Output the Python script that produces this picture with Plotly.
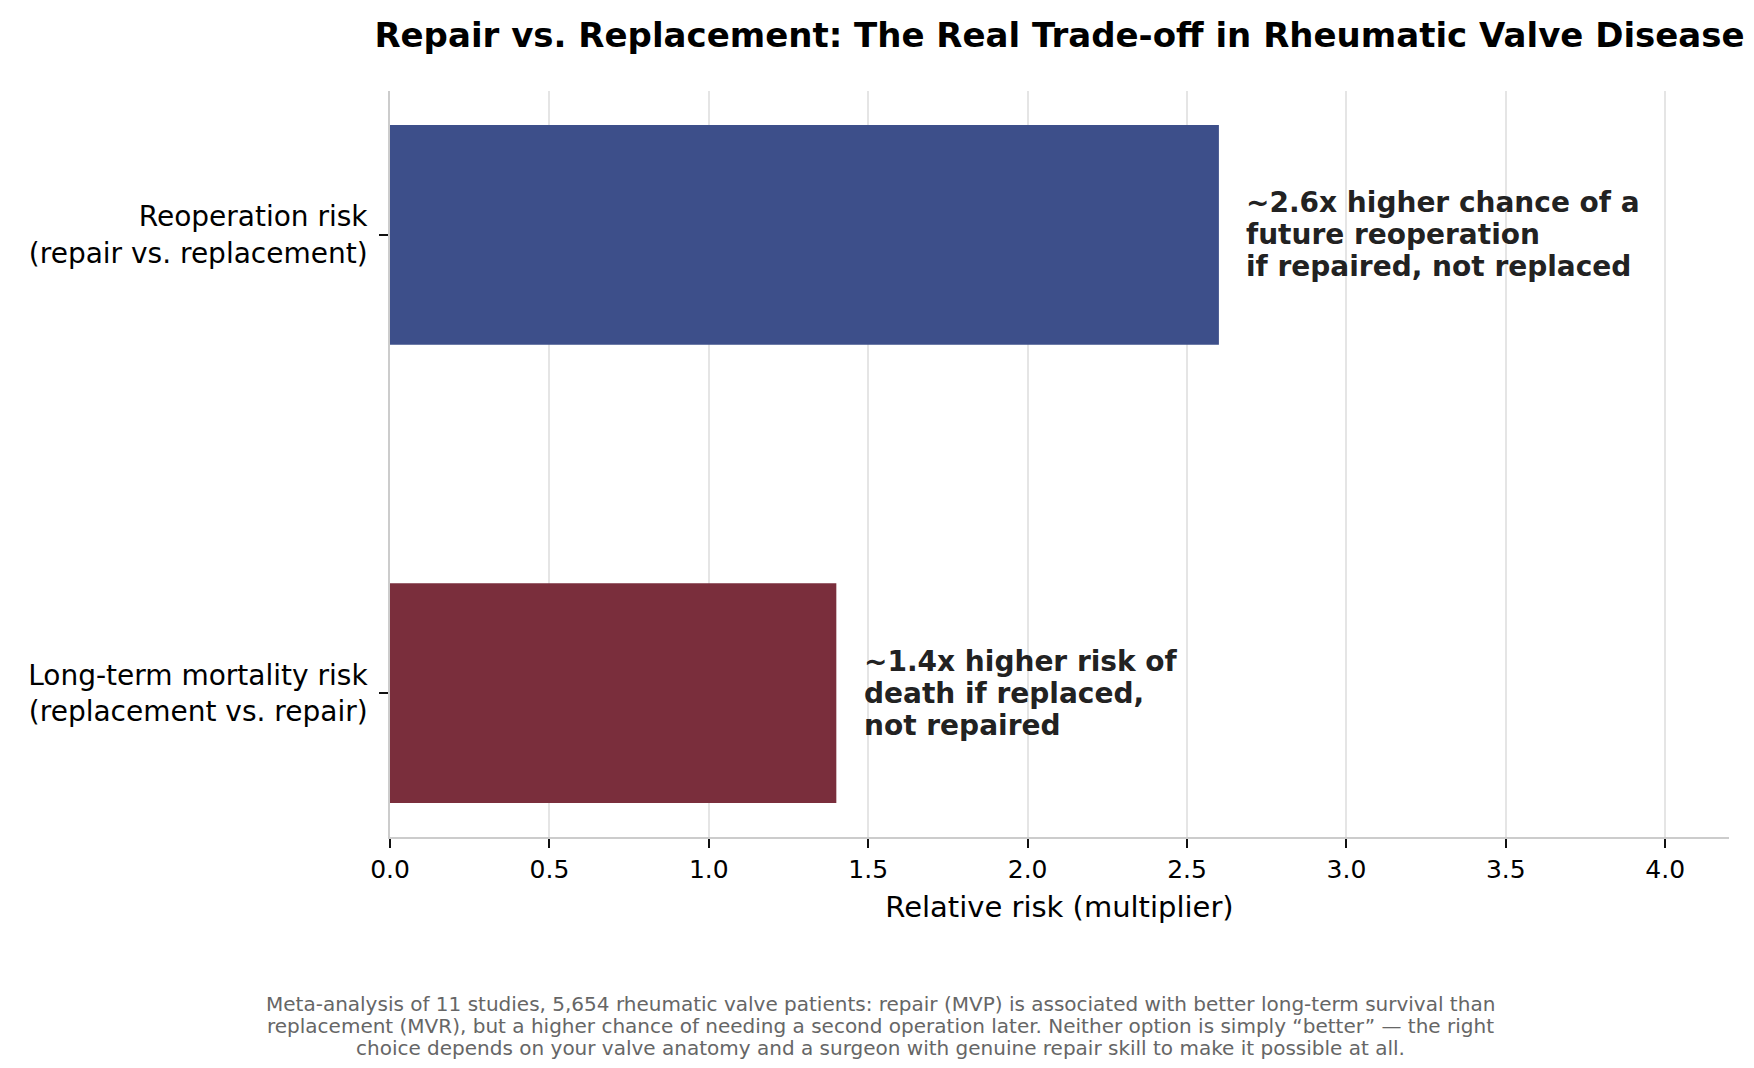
import plotly.graph_objects as go

categories = ["Reoperation risk<br>(repair vs. replacement)",
              "Long-term mortality risk<br>(replacement vs. repair)"]
risk = [2.6, 1.4]
bar_colors = ["#3d4f8a", "#7a2e3c"]
notes = [["~2.6x higher chance of a", "future reoperation", "if repaired, not replaced"],
         ["~1.4x higher risk of", "death if replaced,", "not repaired"]]
x_ticks = [0.0, 0.5, 1.0, 1.5, 2.0, 2.5, 3.0, 3.5, 4.0]
footnote = ["Meta-analysis of 11 studies, 5,654 rheumatic valve patients: repair (MVP) is associated with better long-term survival than",
            "replacement (MVR), but a higher chance of needing a second operation later. Neither option is simply \u201cbetter\u201d \u2014 the right",
            "choice depends on your valve anatomy and a surgeon with genuine repair skill to make it possible at all."]

FONT = "DejaVu Sans"

fig = go.Figure(go.Bar(x=risk, y=categories, orientation="h", width=0.48,
                       marker=dict(color=bar_colors, line_width=0),
                       hoverinfo="skip"))

# bar notes, one annotation per line so the line spacing stays tight
for val, cat, lines in zip(risk, categories, notes):
    for i, line in enumerate(lines):
        fig.add_annotation(x=val + 0.08, y=cat, text=line, showarrow=False,
                           xanchor="left", yanchor="middle", align="left",
                           yshift=32 * (1 - i),
                           font=dict(family=FONT, size=28, color="#222222", weight="bold"))

for i, line in enumerate(footnote):
    fig.add_annotation(x=0.366, y=-0.2534, xref="paper", yref="paper",
                       text=line, showarrow=False, xanchor="center", yanchor="middle",
                       yshift=22 * (1 - i),
                       font=dict(family=FONT, size=20, color="#666666"))

fig.update_xaxes(range=[0, 4.2], tickvals=x_ticks, ticktext=[f"{t:.1f}" for t in x_ticks],
                 showgrid=True, gridcolor="#e5e5e5", gridwidth=1.5,
                 showline=True, linecolor="#cccccc", linewidth=2,
                 ticks="outside", ticklen=9, tickcolor="#111111", tickwidth=1.6,
                 tickfont=dict(family=FONT, size=25, color="black"),
                 title=dict(text="Relative risk (multiplier)", standoff=14,
                            font=dict(family=FONT, size=29, color="black")),
                 zeroline=False)
fig.update_yaxes(range=[1.314, -0.314], showgrid=False,
                 showline=True, linecolor="#cccccc", linewidth=1.6,
                 ticks="outside", ticklen=9, tickcolor="#111111", tickwidth=1.6,
                 ticklabelstandoff=6,
                 tickfont=dict(family=FONT, size=28, color="black"))

fig.update_layout(width=1754, height=1068, template="simple_white",
                  plot_bgcolor="white", paper_bgcolor="white", showlegend=False,
                  margin=dict(l=382, r=33, t=83, b=239),
                  title=dict(text="Repair vs. Replacement: The Real Trade-off in Rheumatic Valve Disease",
                             x=0.5, xref="paper", xanchor="center", y=1 - 27 / 1068, yanchor="middle",
                             font=dict(family=FONT, size=34, color="black", weight="bold")))

fig.write_html("out.html")
